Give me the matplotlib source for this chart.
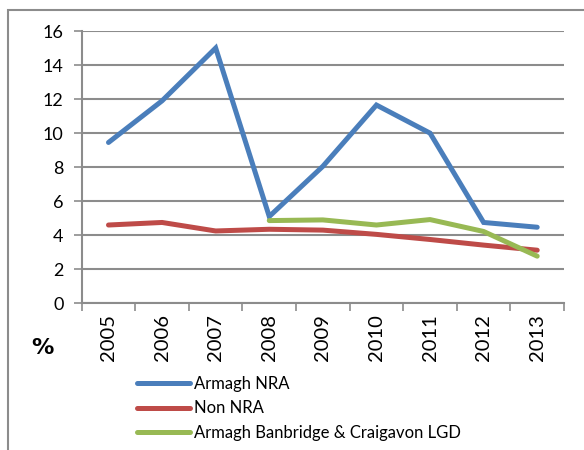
import numpy as np
import matplotlib
matplotlib.use("Agg")
import matplotlib.pyplot as plt
from matplotlib.lines import Line2D
from matplotlib.patches import Rectangle

years = ["2005", "2006", "2007", "2008", "2009", "2010", "2011", "2012", "2013"]
armagh_nra = [9.45, 11.9, 15.0, 5.1, 8.05, 11.65, 10.0, 4.75, 4.47]
non_nra = [4.6, 4.75, 4.25, 4.35, 4.3, 4.05, 3.75, 3.42, 3.12]
# LGD series only starts in 2008
lgd_years = ["2008", "2009", "2010", "2011", "2012", "2013"]
lgd = [4.86, 4.9, 4.6, 4.92, 4.22, 2.77]

plt.rcParams["font.family"] = ["Lato", "DejaVu Sans"]

fig = plt.figure(figsize=(5.84, 4.5), dpi=100)

# outer frame of the chart box (runs off the right and bottom edges)
fig.patches.append(Rectangle((8 / 584, -0.1), 1.2, 1 - 10 / 450 + 0.1,
                             transform=fig.transFigure, fill=False,
                             edgecolor="#8c8c8c", linewidth=1.5))

ax = fig.add_axes([81.7 / 584, 1 - 303.3 / 450, (564 - 81.7) / 584, (303.3 - 31) / 450])

x = np.arange(len(years))
x_lgd = np.array([years.index(y) for y in lgd_years])

lw = 3.6
ax.plot(x, armagh_nra, color="#4a7ebb", linewidth=lw, solid_capstyle="round",
        solid_joinstyle="miter", label="Armagh NRA")
ax.plot(x, non_nra, color="#be4b48", linewidth=lw, solid_capstyle="round",
        label="Non NRA")
ax.plot(x_lgd, lgd, color="#98b954", linewidth=lw, solid_capstyle="round",
        label="Armagh Banbridge & Craigavon LGD")

ax.set_xlim(-0.5, len(years) - 0.5)
ax.set_ylim(0, 16)
ax.set_yticks(np.arange(0, 17, 2))
ax.yaxis.grid(True, color="#8c8c8c", linewidth=1.5)
ax.set_axisbelow(True)

ax.set_xticks(x)
ax.set_xticklabels(years, rotation=90, fontsize=14.5)
ax.set_xticks(np.arange(-0.5, len(years)), minor=True)
ax.tick_params(axis="x", which="major", length=0, pad=8)
ax.tick_params(axis="x", which="minor", length=6, width=1.2, color="#8c8c8c", direction="out")
ax.tick_params(axis="y", length=6, width=1.2, color="#8c8c8c", labelsize=13, pad=7)

for side in ["top", "right"]:
    ax.spines[side].set_visible(False)
for side in ["left", "bottom"]:
    ax.spines[side].set_color("#8c8c8c")
    ax.spines[side].set_linewidth(1.5)

fig.text(42 / 584, 1 - 348 / 450, "%", fontsize=16, fontweight="bold",
         family="DejaVu Sans", ha="center", va="center")

handles = [Line2D([0], [0], color=c, linewidth=lw, solid_capstyle="round")
           for c in ["#4a7ebb", "#be4b48", "#98b954"]]
labels = ["Armagh NRA", "Non NRA", "Armagh Banbridge & Craigavon LGD"]
fig.legend(handles, labels, loc="upper left", bbox_to_anchor=(137 / 584, 1 - 376 / 450),
           frameon=False, fontsize=12, handlelength=3.2, handletextpad=0.25,
           labelspacing=0.5, borderaxespad=0, borderpad=0)

fig.savefig("out.png", dpi=100)
